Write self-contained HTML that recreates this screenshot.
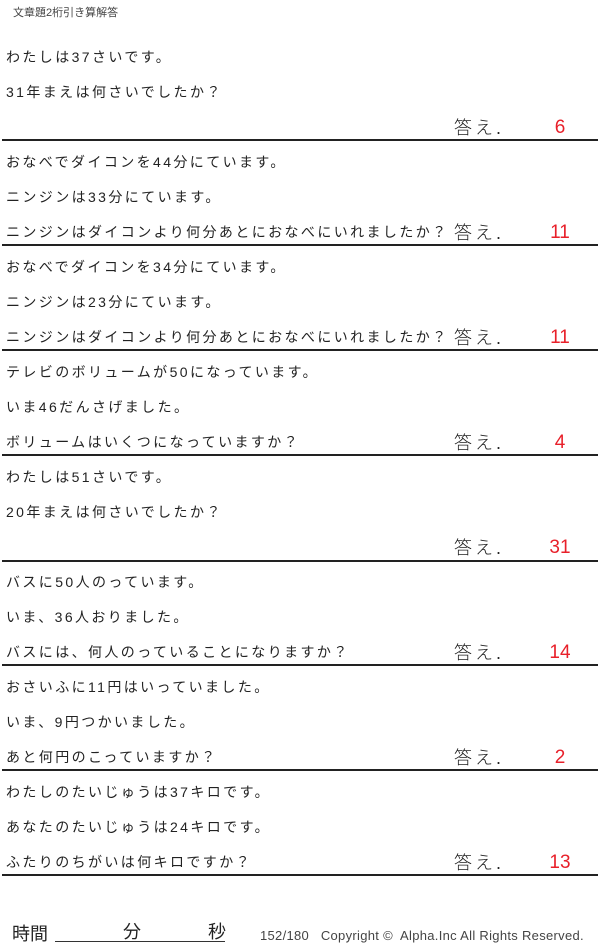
<!DOCTYPE html>
<html><head><meta charset="utf-8"><style>
body{margin:0;width:600px;height:949px;background:#fff;position:relative;overflow:hidden;font-family:"Liberation Sans","Noto Sans CJK JP",sans-serif;color:#222}
.t{position:absolute;left:6px;font-size:14px;line-height:16px;white-space:nowrap;letter-spacing:2.4px}
.l{position:absolute;left:2px;width:596px;height:2px;background:#222}
.a{position:absolute;left:454px;font-size:18px;line-height:20px;letter-spacing:3px;font-weight:300}
.n{position:absolute;width:60px;left:530px;text-align:center;font-size:19px;line-height:20px;color:#e8202a}
</style></head><body>
<div style="position:absolute;left:13px;top:4px;font-size:11px;color:#444">文章題2桁引き算解答</div>

<div class="t" style="top:49px">わたしは37さいです。</div>
<div class="t" style="top:84px">31年まえは何さいでしたか？</div>
<div class="a" style="top:118px">答え.</div><div class="n" style="top:118px">6</div>
<div class="l" style="top:139px"></div>

<div class="t" style="top:154px">おなべでダイコンを44分にています。</div>
<div class="t" style="top:189px">ニンジンは33分にています。</div>
<div class="t" style="top:224px">ニンジンはダイコンより何分あとにおなべにいれましたか？</div>
<div class="a" style="top:223px">答え.</div><div class="n" style="top:223px">11</div>
<div class="l" style="top:244px"></div>

<div class="t" style="top:259px">おなべでダイコンを34分にています。</div>
<div class="t" style="top:294px">ニンジンは23分にています。</div>
<div class="t" style="top:329px">ニンジンはダイコンより何分あとにおなべにいれましたか？</div>
<div class="a" style="top:328px">答え.</div><div class="n" style="top:328px">11</div>
<div class="l" style="top:349px"></div>

<div class="t" style="top:364px">テレビのボリュームが50になっています。</div>
<div class="t" style="top:399px">いま46だんさげました。</div>
<div class="t" style="top:434px">ボリュームはいくつになっていますか？</div>
<div class="a" style="top:433px">答え.</div><div class="n" style="top:433px">4</div>
<div class="l" style="top:454px"></div>

<div class="t" style="top:469px">わたしは51さいです。</div>
<div class="t" style="top:504px">20年まえは何さいでしたか？</div>
<div class="a" style="top:538px">答え.</div><div class="n" style="top:538px">31</div>
<div class="l" style="top:560px"></div>

<div class="t" style="top:574px">バスに50人のっています。</div>
<div class="t" style="top:609px">いま、36人おりました。</div>
<div class="t" style="top:644px">バスには、何人のっていることになりますか？</div>
<div class="a" style="top:643px">答え.</div><div class="n" style="top:643px">14</div>
<div class="l" style="top:664px"></div>

<div class="t" style="top:679px">おさいふに11円はいっていました。</div>
<div class="t" style="top:714px">いま、9円つかいました。</div>
<div class="t" style="top:749px">あと何円のこっていますか？</div>
<div class="a" style="top:748px">答え.</div><div class="n" style="top:748px">2</div>
<div class="l" style="top:769px"></div>

<div class="t" style="top:784px">わたしのたいじゅうは37キロです。</div>
<div class="t" style="top:819px">あなたのたいじゅうは24キロです。</div>
<div class="t" style="top:854px">ふたりのちがいは何キロですか？</div>
<div class="a" style="top:853px">答え.</div><div class="n" style="top:853px">13</div>
<div class="l" style="top:874px"></div>

<div style="position:absolute;left:12px;top:924px;font-size:18px;line-height:20px">時間</div>
<div style="position:absolute;left:55px;top:941px;width:170px;height:1px;background:#333"></div>
<div style="position:absolute;left:123px;top:922px;font-size:18px;line-height:20px">分</div>
<div style="position:absolute;left:208px;top:922px;font-size:18px;line-height:20px">秒</div>
<div style="position:absolute;left:260px;top:929px;font-size:13px;line-height:14px;color:#444;white-space:nowrap;letter-spacing:0.3px">152/180&nbsp;&nbsp;&nbsp;Copyright ©&nbsp; Alpha.Inc All Rights Reserved.</div>
</body></html>
